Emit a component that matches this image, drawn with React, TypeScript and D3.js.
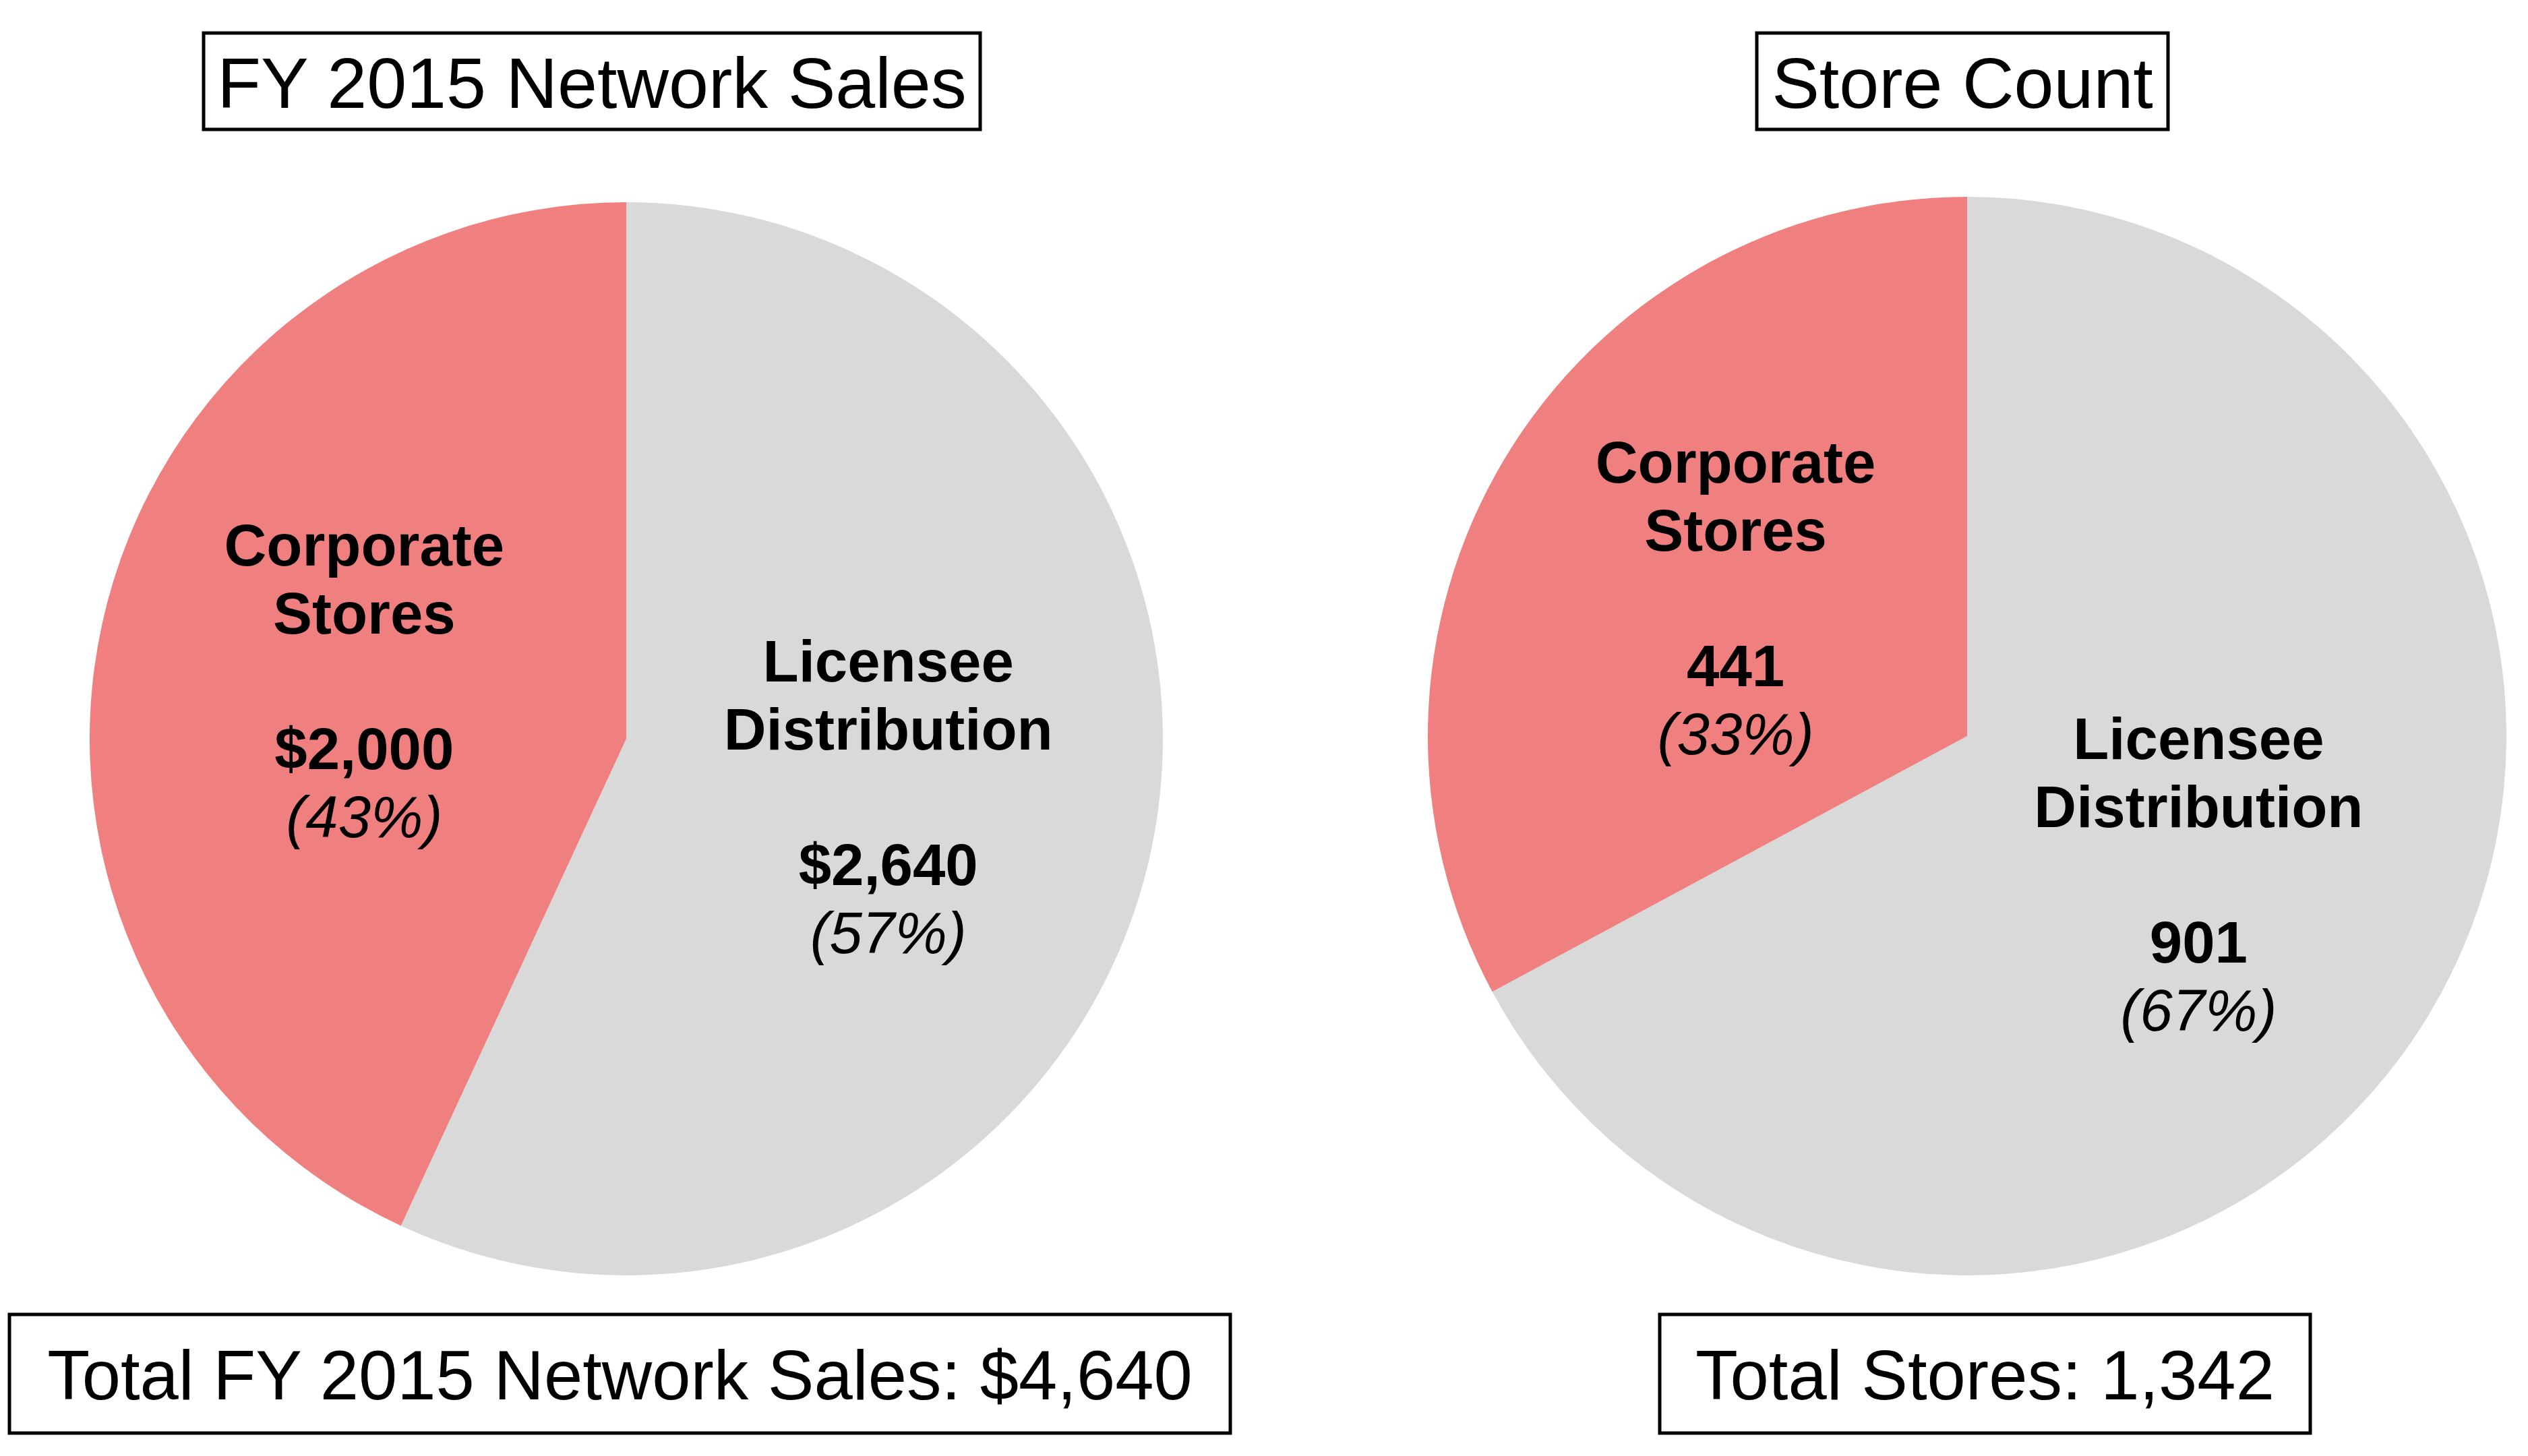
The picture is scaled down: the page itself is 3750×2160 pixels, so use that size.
import React from "react";
import * as d3 from "d3";

const categories = ["Licensee Distribution", "Corporate Stores"];
const labelLines = [["Licensee", "Distribution"], ["Corporate", "Stores"]];
const salesValues = [2640, 2000];
const salesValueLabels = ["$2,640", "$2,000"];
const salesPctLabels = ["(57%)", "(43%)"];
const storeValues = [901, 441];
const storeValueLabels = ["901", "441"];
const storePctLabels = ["(67%)", "(33%)"];
const colors = ["#D9D9D9", "#F08080"];
const titles = ["FY 2015 Network Sales", "Store Count"];
const totals = ["Total FY 2015 Network Sales: $4,640", "Total Stores: 1,342"];

const FONT = "'Liberation Sans', Arial, sans-serif";

function Pie({ cx, cy, r, values, valueLabels, pctLabels }: any) {
  const pie = d3.pie<number>().sort(null).value((d) => d);
  const arcs = pie(values);
  const arc = d3.arc<d3.PieArcDatum<number>>().innerRadius(0).outerRadius(r);
  return (
    <g transform={`translate(${cx},${cy})`}>
      {arcs.map((a, i) => (
        <path key={categories[i]} d={arc(a) || ""} fill={colors[i]} />
      ))}
      {arcs.map((a, i) => {
        const [x, y] = arc.centroid(a);
        return (
          <g key={"l" + i} fontFamily={FONT} fontSize={87} textAnchor="middle" fill="#000">
            <text x={x} y={y - 171} fontWeight="bold">{labelLines[i][0]}</text>
            <text x={x} y={y - 70} fontWeight="bold">{labelLines[i][1]}</text>
            <text x={x} y={y + 131} fontWeight="bold">{valueLabels[i]}</text>
            <text x={x} y={y + 232} fontStyle="italic">{pctLabels[i]}</text>
          </g>
        );
      })}
    </g>
  );
}

function Box({ x0, x1, y0, y1, text, baseline, size }: any) {
  return (
    <g>
      <rect x={x0} y={y0} width={x1 - x0} height={y1 - y0} fill="#fff" stroke="#000" strokeWidth={5} />
      <text x={(x0 + x1) / 2} y={baseline} textAnchor="middle" fontFamily={FONT} fontSize={size} fill="#000">
        {text}
      </text>
    </g>
  );
}

export default function App() {
  return (
    <svg
      width={3750}
      height={2160}
      style={{ position: "absolute", left: 0, top: 0, background: "#fff" }}
    >
      <rect x={0} y={0} width={3750} height={2160} fill="#fff" />
      <Pie cx={929} cy={1096} r={796} values={salesValues} valueLabels={salesValueLabels} pctLabels={salesPctLabels} />
      <Pie cx={2918} cy={1092} r={800} values={storeValues} valueLabels={storeValueLabels} pctLabels={storePctLabels} />
      <Box x0={302} x1={1454} y0={49} y1={192} text={titles[0]} baseline={160} size={106} />
      <Box x0={2606} x1={3216} y0={49} y1={192} text={titles[1]} baseline={160} size={106} />
      <Box x0={14} x1={1825} y0={1950} y1={2126} text={totals[0]} baseline={2076} size={103} />
      <Box x0={2462} x1={3427} y0={1950} y1={2126} text={totals[1]} baseline={2076} size={103} />
    </svg>
  );
}
